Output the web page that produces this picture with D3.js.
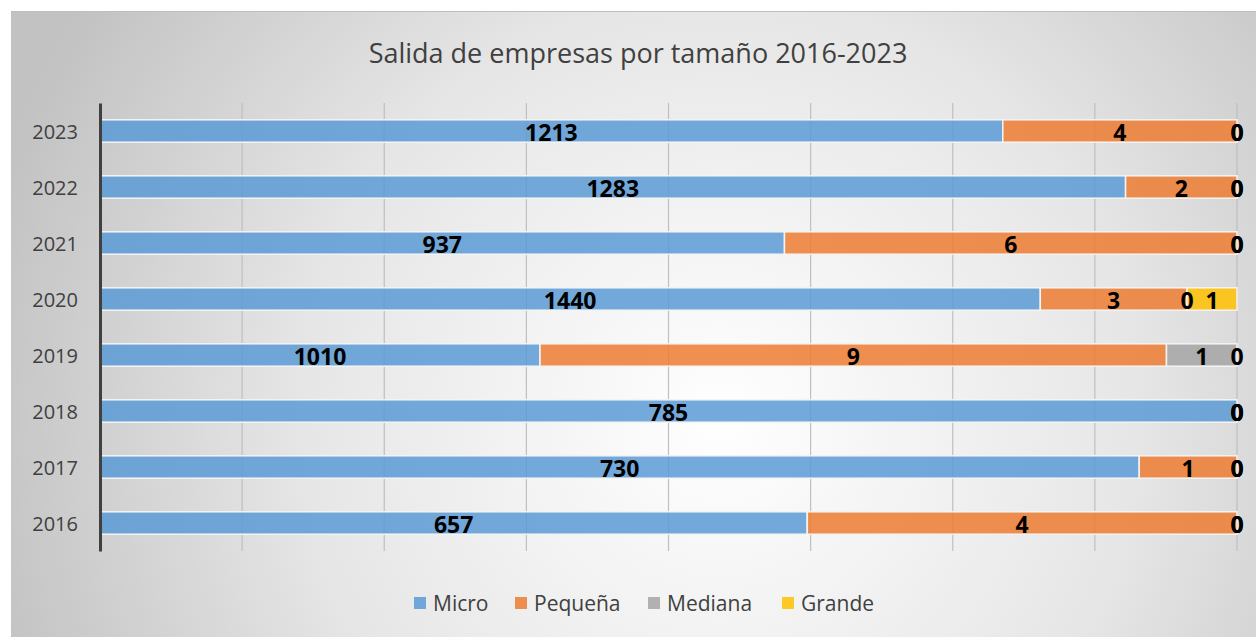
<!DOCTYPE html>
<html>
<head>
<meta charset="utf-8">
<script src="https://cdn.jsdelivr.net/npm/d3@7"></script>
<style>
  body { margin: 0; background: #fff; }
  svg text { font-family: "Open Sans", "Noto Sans", sans-serif; }
</style>
</head>
<body>
<script>
// Chart data
var years = ["2016", "2017", "2018", "2019", "2020", "2021", "2022", "2023"];
var seriesNames = ["Micro", "Pequeña", "Mediana", "Grande"];
var seriesColors = ["#5B9BD5", "#ED7D31", "#A5A5A5", "#FFC000"];

// share of each bar (percent, 100% stacked)
var microShare   = [62.2, 91.4, 100, 38.7, 82.7, 60.2, 90.2, 79.4];
var pequenaShare = [37.8,  8.6,   0, 55.1, 12.9, 39.8,  9.8, 20.6];
var medianaShare = [   0,   0,   0,  6.2,    0,    0,    0,    0];
var grandeShare  = [   0,   0,   0,    0,  4.4,    0,    0,    0];

// counts shown in the data labels
var microCount   = [657, 730, 785, 1010, 1440, 937, 1283, 1213];
var pequenaCount = [4, 1, 0, 9, 3, 6, 2, 4];
var medianaCount = [0, 0, 0, 1, 0, 0, 0, 0];
var grandeCount  = [0, 0, 0, 0, 1, 0, 0, 0];

var xTicks = [0, 12.5, 25, 37.5, 50, 62.5, 75, 87.5, 100];

// Chart basic vars
var width = 1256, height = 637;
var margin = {left: 100, top: 103, right: 19, bottom: 86};

var svg = d3.select("body").append("svg")
    .attr("width", width)
    .attr("height", height);

// background with soft radial gradient
var defs = svg.append("defs");
var grad = defs.append("radialGradient")
    .attr("id", "bg")
    .attr("gradientUnits", "userSpaceOnUse")
    .attr("cx", 720).attr("cy", 420).attr("r", 760);
grad.append("stop").attr("offset", "0").attr("stop-color", "#ffffff");
grad.append("stop").attr("offset", "0.55").attr("stop-color", "#e6e6e6");
grad.append("stop").attr("offset", "1").attr("stop-color", "#c2c2c2");

svg.append("rect")
    .attr("x", 11).attr("y", 11)
    .attr("width", width - 11).attr("height", height - 11)
    .attr("fill", "url(#bg)");
svg.append("line")
    .attr("x1", 11).attr("x2", width).attr("y1", 11.5).attr("y2", 11.5)
    .attr("stroke", "#bdbdbd");

// title
svg.append("text")
    .attr("x", 638).attr("y", 63)
    .attr("text-anchor", "middle")
    .style("font-size", "27px")
    .style("fill", "#404040")
    .text("Salida de empresas por tamaño 2016-2023");

// scales
var x = d3.scaleLinear()
    .domain([0, 100])
    .range([margin.left, width - margin.right]);
var y = d3.scaleBand()
    .domain(years.slice().reverse())
    .range([margin.top, height - margin.bottom])
    .paddingInner(0.6)
    .paddingOuter(0.3);

// gridlines
svg.append("g")
    .attr("class", "grid")
    .selectAll("line")
    .data(xTicks.slice(1))
    .enter().append("line")
    .attr("x1", function(d) { return x(d); })
    .attr("x2", function(d) { return x(d); })
    .attr("y1", margin.top)
    .attr("y2", height - margin.bottom)
    .attr("stroke", "#bfbfbf")
    .attr("stroke-width", 1.2);

// stack the shares
var shares = [microShare, pequenaShare, medianaShare, grandeShare];
var counts = [microCount, pequenaCount, medianaCount, grandeCount];
var rows = years.map(function(yr, i) {
    var row = {year: yr};
    seriesNames.forEach(function(s, j) { row[s] = shares[j][i]; row[s + "_n"] = counts[j][i]; });
    return row;
});
var stacked = d3.stack().keys(seriesNames)(rows);
var segments = [];
stacked.forEach(function(layer) {
    layer.forEach(function(p) { segments.push({key: layer.key, p: p}); });
});

//bars
svg.append("g").selectAll("rect")
    .data(segments.filter(function(d) { return d.p[1] - d.p[0] > 0; }))
    .enter().append("rect")
    .attr("x", function(d) { return x(d.p[0]); })
    .attr("y", function(d) { return y(d.p.data.year); })
    .attr("width", function(d) { return x(d.p[1]) - x(d.p[0]); })
    .attr("height", y.bandwidth())
    .attr("fill", function(d) { return seriesColors[seriesNames.indexOf(d.key)]; })
    .attr("fill-opacity", 0.85)
    .attr("stroke", "#f4f4f4")
    .attr("stroke-width", 1.5);

// data labels, drawn on top of every bar
svg.append("g").selectAll("text")
    .data(segments)
    .enter().append("text")
    .attr("x", function(d) { return (x(d.p[0]) + x(d.p[1])) / 2; })
    .attr("y", function(d) { return y(d.p.data.year) + y.bandwidth() / 2 + 1; })
    .attr("text-anchor", "middle")
    .attr("dominant-baseline", "central")
    .style("font-size", "23px")
    .style("font-weight", "bold")
    .style("fill", "#000")
    .text(function(d) { return d.p.data[d.key + "_n"]; });

// y axis
var yAxis = d3.axisLeft(y).tickSize(0).tickPadding(22);
var gy = svg.append("g")
    .attr("transform", "translate(" + margin.left + ",0)")
    .call(yAxis);
gy.select(".domain").attr("stroke", "#404040").attr("stroke-width", 3);
gy.selectAll("text")
    .attr("dy", "0.4em")
    .style("font-size", "20px")
    .style("fill", "#404040")
    .style("font-family", "'Open Sans', sans-serif");

// legend
var legendX = [414, 515, 648, 782];
var legend = svg.selectAll(".legend")
    .data(seriesNames)
    .enter().append("g")
    .attr("class", "legend")
    .attr("transform", function(d, i) { return "translate(" + legendX[i] + ",597)"; });
legend.append("rect")
    .attr("width", 12).attr("height", 12)
    .attr("fill", function(d, i) { return seriesColors[i]; })
    .attr("fill-opacity", 0.85);
legend.append("text")
    .attr("x", 19).attr("y", 6)
    .attr("dominant-baseline", "central")
    .style("font-size", "21px")
    .style("fill", "#404040")
    .text(function(d) { return d; });
</script>
</body>
</html>
